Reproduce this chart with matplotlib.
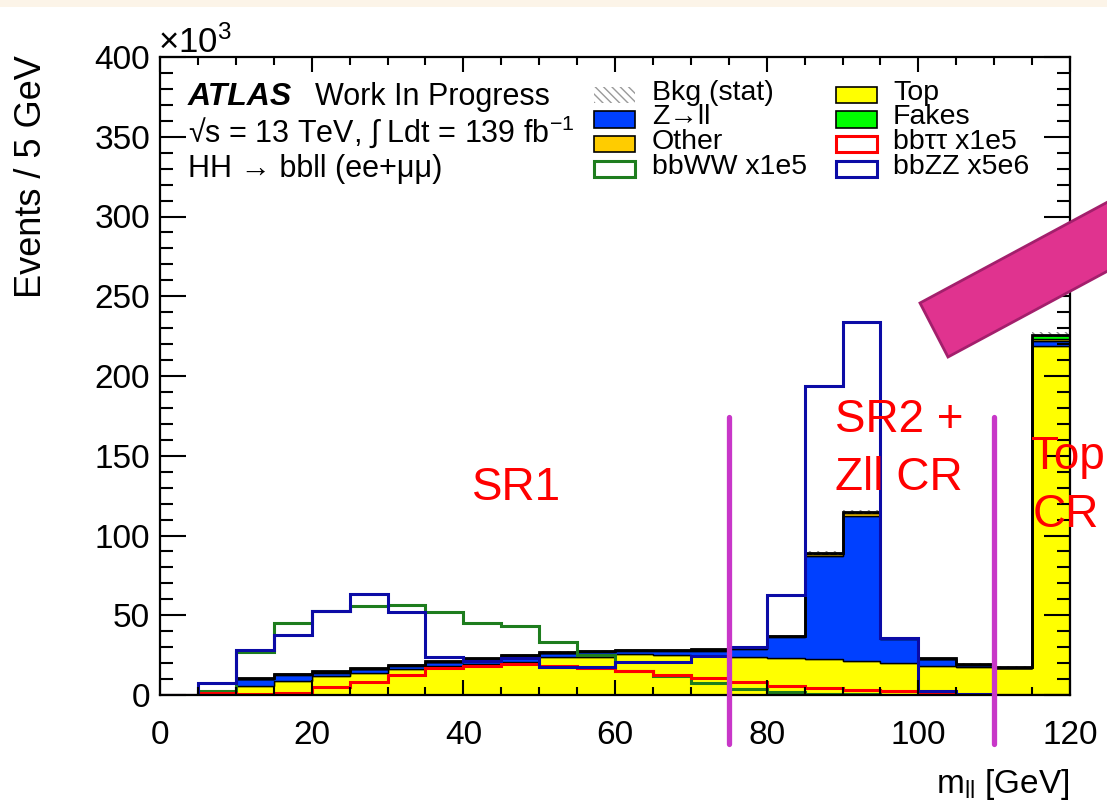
import numpy as np
import matplotlib.pyplot as plt
from matplotlib.patches import Rectangle, Polygon

plt.rcParams['font.family'] = ['Liberation Sans', 'DejaVu Sans']
plt.rcParams['mathtext.fontset'] = 'custom'
plt.rcParams['mathtext.rm'] = 'Liberation Sans'
plt.rcParams['mathtext.it'] = 'Liberation Sans:italic'
plt.rcParams['mathtext.bf'] = 'Liberation Sans:bold'
plt.rcParams['hatch.color'] = '#8c8c8c'
plt.rcParams['hatch.linewidth'] = 1.0

# --- data (x10^3 events / 5 GeV) ---
edges = np.arange(0, 125, 5)
top = [0, 1.0, 5.9, 9.0, 11.7, 13.8, 16.3, 18.4, 19.6, 21.0, 23.6, 24.0,
       25.5, 25.0, 24.5, 23.8, 23.2, 22.6, 21.5, 20.2, 18.4, 17.8, 16.8, 219.0]
zll = [0, 1.2, 3.9, 3.5, 2.4, 2.2, 1.8, 2.0, 2.7, 3.6, 2.5, 2.9,
       2.0, 2.5, 3.3, 5.3, 13.1, 64.6, 90.7, 14.7, 4.0, 1.1, 0.2, 3.0]
other = [0, 0.2, 0.3, 0.4, 0.4, 0.4, 0.4, 0.4, 0.4, 0.4, 0.4, 0.4,
         0.4, 0.4, 0.5, 0.5, 0.6, 1.5, 2.0, 0.6, 0.3, 0.2, 0.1, 1.0]
fakes = [0, 0.3, 0.3, 0.3, 0.3, 0.3, 0.3, 0.3, 0.3, 0.3, 0.3, 0.3,
         0.3, 0.3, 0.3, 0.3, 0.3, 0.3, 0.3, 0.3, 0.3, 0.3, 0.3, 3.0]
bkg_stat = [0, 0.3, 0.5, 0.5, 0.5, 0.5, 0.5, 0.5, 0.5, 0.5, 0.5, 0.5,
            0.5, 0.5, 0.5, 0.6, 0.7, 1.0, 1.2, 0.7, 0.5, 0.5, 0.5, 1.5]
bbww = [0, 2.5, 26.8, 44.9, 52.5, 56.0, 56.6, 51.8, 45.1, 43.5, 33.0, 25.1,
        15.2, 12.1, 7.5, 3.8, 1.7, 0.6, 0.5, 0.3, 0.2, 0.1, 0.1, 0.0]
bbtautau = [0, 1.0, 0.8, 1.0, 4.8, 8.4, 12.7, 16.7, 18.0, 19.5, 18.0, 16.7,
            15.0, 12.5, 10.4, 8.0, 5.9, 4.6, 3.1, 2.3, 0.5, 0.2, 0.1, 0.0]
bbzz = [0, 7.3, 28.2, 37.6, 52.7, 63.3, 51.8, 23.6, 21.5, 23.0, 17.3, 17.8,
        21.0, 20.8, 24.5, 30.0, 62.5, 194.0, 234.0, 35.5, 2.8, 0.6, 0.3, 0.2]

W, H = 1107, 808
fig = plt.figure(figsize=(W / 100, H / 100), dpi=100)


def fx(x):
    return x / W


def fy(y):
    return 1 - y / H


ax = fig.add_axes([fx(160), fy(695), fx(1070) - fx(160), fy(57) - fy(695)])

# stacked backgrounds
bottom = np.zeros(len(top))
for vals, col in [(top, '#ffff00'), (zll, '#0040ff'), (other, '#ffcc00'), (fakes, '#00ff00')]:
    v = np.array(vals)
    ax.stairs(bottom + v, edges, baseline=bottom.copy(), fill=True,
              facecolor=col, edgecolor='black', linewidth=1.0)
    bottom = bottom + v
total = bottom
err = np.array(bkg_stat)
ax.stairs(total + err, edges, baseline=total - err, fill=True,
          facecolor='none', edgecolor='#8c8c8c', linewidth=0, hatch='\\\\\\\\')
ax.stairs(total, edges, color='black', linewidth=2.0)

# signals
ax.stairs(bbww, edges, color='#1e7d1e', linewidth=2.2)
ax.stairs(bbtautau, edges, color='#ff0000', linewidth=2.2)
ax.stairs(bbzz, edges, color='#0b0ba6', linewidth=2.2)

ax.set_xlim(0, 120)
ax.set_ylim(0, 400)
ax.set_xticks(np.arange(0, 121, 20))
ax.set_xticks(np.arange(0, 121, 5), minor=True)
ax.set_yticks(np.arange(0, 401, 50))
ax.set_yticks(np.arange(0, 401, 10), minor=True)
ax.tick_params(which='both', direction='in', top=True, right=True, width=1.5,
               labelsize=24, colors='black')
ax.tick_params(axis='x', which='major', length=11, pad=18)
ax.tick_params(axis='x', which='minor', length=6)
ax.tick_params(axis='y', which='major', length=19, pad=7)
ax.tick_params(axis='y', which='minor', length=9.5)
for s in ax.spines.values():
    s.set_linewidth(1.6)

ax.text(-0.002, 0.995, r'$\times$10$^{3}$', transform=ax.transAxes, ha='left', va='bottom', fontsize=25)
fig.text(fx(32), fy(55), 'Events / 5 GeV', rotation=90, ha='center', va='top', fontsize=26)
fig.text(fx(1070), fy(784), r'm$_{\rm ll}$ [GeV]', ha='right', va='center', fontsize=24)

# ATLAS label
fig.text(fx(188), fy(97), 'ATLAS', fontsize=23, fontweight='bold', fontstyle='italic', va='center')
fig.text(fx(315), fy(97), 'Work In Progress', fontsize=22, va='center')
fig.text(fx(188), fy(132), '\u221as = 13 TeV, \u222b Ldt = 139 fb$^{-1}$', fontsize=22, va='center')
fig.text(fx(188), fy(169), 'HH \u2192 bbll (ee+\u03bc\u03bc)', fontsize=22, va='center')

# legend
rows = [95, 119.5, 144, 169]
legend_items = [
    (594, 652, rows[0], 'Bkg (stat)', dict(facecolor='none', edgecolor='#9a9a9a', hatch='\\\\\\\\', linewidth=0)),
    (594, 652, rows[1], 'Z\u2192ll', dict(facecolor='#0040ff', edgecolor='black', linewidth=1.2)),
    (594, 652, rows[2], 'Other', dict(facecolor='#ffcc00', edgecolor='black', linewidth=1.2)),
    (594, 652, rows[3], 'bbWW x1e5', dict(facecolor='white', edgecolor='#1e7d1e', linewidth=2.2)),
    (836, 893, rows[0], 'Top', dict(facecolor='#ffff00', edgecolor='black', linewidth=1.2)),
    (836, 893, rows[1], 'Fakes', dict(facecolor='#00ff00', edgecolor='black', linewidth=1.2)),
    (836, 893, rows[2], 'bb\u03c4\u03c4 x1e5', dict(facecolor='white', edgecolor='#ff0000', linewidth=2.2)),
    (836, 893, rows[3], 'bbZZ x5e6', dict(facecolor='white', edgecolor='#0b0ba6', linewidth=2.2)),
]
for bx, tx, ry, lab, style in legend_items:
    fig.add_artist(Rectangle((fx(bx), fy(ry + 8)), fx(41), 16 / H, transform=fig.transFigure, **style))
    fig.text(fx(tx), fy(ry - 2), lab, fontsize=20.5, va='center')

# region annotations
mag = '#c837c8'
for xl in [75, 110]:
    ax.plot([xl, xl], [-31, 174], color=mag, linewidth=3.8, solid_capstyle='round', clip_on=False, zorder=6)
fig.text(fx(517), fy(488), 'SR1', color='#ff0000', fontsize=33, ha='center', va='center')
fig.text(fx(835), fy(420), 'SR2 +', color='#ff0000', fontsize=33, ha='left', va='center')
fig.text(fx(835), fy(478), 'Zll CR', color='#ff0000', fontsize=33, ha='left', va='center')
fig.text(fx(1031), fy(457), 'Top', color='#ff0000', fontsize=33, ha='left', va='center')
fig.text(fx(1033), fy(515), 'CR', color='#ff0000', fontsize=33, ha='left', va='center')

# pink arrow body
pts = [(920, 303), (1130, 190), (1130, 259), (948, 357)]
fig.add_artist(Polygon([(fx(x), fy(y)) for x, y in pts], closed=True, transform=fig.transFigure,
                       facecolor='#e0338f', edgecolor='#a31f6c', linewidth=2, zorder=10))

# cream band at top
fig.add_artist(Rectangle((0, fy(7)), 1, 7 / H, transform=fig.transFigure,
                         facecolor='#fcf4e8', edgecolor='none', zorder=0))

fig.savefig('out.png', dpi=100)
